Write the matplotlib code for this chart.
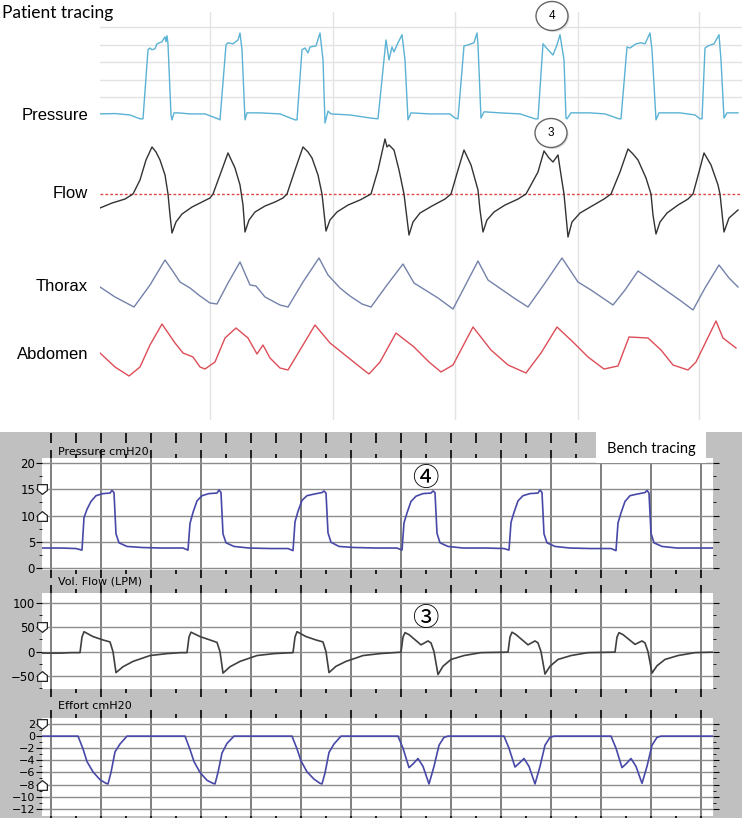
import numpy as np
import matplotlib.pyplot as plt
from matplotlib.patches import Rectangle, Ellipse
from matplotlib.path import Path

# ---------------- patient tracing (time in s) ----------------
pt_grid_t = [4.4, 9.32, 14.2, 19.12, 23.96]

pres_t = [0, 0.6, 1.2, 1.6,
          1.72, 1.92, 2.0, 2.08, 2.2, 2.28, 2.48, 2.6, 2.64, 2.68, 2.72, 2.84, 2.88, 2.96, 3.12, 3.6, 4.2, 4.72,
          4.8, 5.04, 5.12, 5.32, 5.52, 5.6, 5.68, 5.8, 5.88, 6.4, 7.2, 7.8,
          7.88, 8.08, 8.2, 8.32, 8.4, 8.64, 8.8, 8.92, 9.0, 9.12, 9.24, 10.0, 10.84,
          11.12, 11.44, 11.56, 11.68, 11.76, 11.92, 12.08, 12.2, 12.32, 12.44, 13.2, 14.0, 14.2,
          14.32, 14.56, 14.72, 14.96, 15.08, 15.12, 15.24, 15.36, 16.0, 16.8, 17.4,
          17.52, 17.72, 17.92, 18.12, 18.28, 18.4, 18.56, 18.64, 18.68, 18.84, 19.6, 20.2, 20.76,
          20.84, 21.08, 21.2, 21.44, 21.64, 21.8, 22.0, 22.08, 22.24, 22.36, 23.2, 23.8, 24.0,
          24.08, 24.2, 24.32, 24.56, 24.76, 24.84, 24.96, 25.08, 25.52]
pres_v = [5.3, 5.4, 5.0, 3.9,
          3.9, 23.6, 24.1, 23.6, 23.9, 25.3, 25.9, 27.3, 25.9, 27.6, 25.3, 5.0, 3.6, 5.6, 5.6, 5.3, 5.3, 3.9,
          3.6, 25.0, 25.6, 25.3, 26.4, 28.4, 23.6, 3.6, 5.6, 5.6, 5.3, 3.6,
          3.6, 23.6, 24.1, 22.7, 24.4, 24.7, 28.4, 20.7, 2.7, 6.1, 5.3, 5.0, 4.1,
          3.9, 26.4, 20.7, 24.4, 23.0, 25.6, 27.9, 20.7, 3.6, 5.6, 5.3, 5.3, 4.1,
          3.9, 24.7, 25.0, 25.6, 28.4, 25.0, 4.1, 5.9, 5.6, 5.3, 3.9,
          3.9, 25.3, 23.6, 22.1, 25.0, 27.9, 20.7, 4.1, 3.9, 5.6, 5.6, 5.3, 3.9,
          3.9, 24.4, 24.1, 25.3, 25.6, 25.3, 28.4, 23.6, 3.6, 5.6, 5.6, 5.0, 3.9,
          3.9, 24.1, 24.7, 25.3, 27.9, 20.7, 4.1, 5.6, 5.6]

flow_t = [0, 0.48, 1.0, 1.32, 1.6, 1.84, 2.08, 2.24, 2.4, 2.6, 2.72, 2.8, 2.88,
          3.04, 3.28, 3.68, 4.08, 4.4, 4.52, 4.8, 5.12, 5.4, 5.6, 5.72, 5.8,
          5.96, 6.2, 6.6, 7.0, 7.32, 7.48, 7.8, 8.12, 8.32, 8.48, 8.72, 8.88, 9.04,
          9.2, 9.48, 9.92, 10.4, 10.84, 11.12, 11.4, 11.48, 11.56, 11.76, 11.96, 12.16, 12.36,
          12.52, 12.8, 13.28, 13.8, 14.04, 14.32, 14.56, 14.84, 15.12, 15.2, 15.32,
          15.48, 15.76, 16.2, 16.72, 17.04, 17.52, 17.76, 17.96, 18.12, 18.32, 18.44, 18.56, 18.72,
          18.88, 19.2, 19.68, 20.16, 20.44, 20.8, 21.12, 21.32, 21.52, 21.84, 22.04, 22.12, 22.24,
          22.4, 22.68, 23.12, 23.52, 23.72, 23.96, 24.16, 24.44, 24.72, 24.8, 24.96, 25.16, 25.52]
flow_v = [-17.5, -11.3, -6.3, 0, 17.5, 42.5, 58.8, 52.5, 42.5, 23.8, 0, -26.3, -48.8,
          -35, -25, -16.3, -10, -5, 0, 23.8, 51.3, 32.5, 11.3, -13.8, -47.5,
          -32.5, -22.5, -15, -10, -5, 0, 30, 58.8, 52.5, 45, 23.8, 0, -46.3,
          -32.5, -22.5, -13.8, -7.5, 0, 30, 68.8, 58.8, 61.3, 55, 30, 0, -51.3,
          -35, -23.8, -15, -6.3, 0, 30, 55, 36.3, 5, -20, -47.5,
          -32.5, -22.5, -13.8, -6.3, 0, 27.5, 53.8, 45, 40, 48.8, 23.8, 0, -53.8,
          -35, -23.8, -15, -6.3, 0, 27.5, 56.3, 50, 42.5, 20, 0, -26.3, -50,
          -35, -23.8, -13.8, -6.3, 0, 27.5, 51.3, 36.3, 11.3, 0, -47.5, -30, -20]

thor_t = [0, 0.6, 1.36, 2.0, 2.6, 2.88, 3.2, 3.6, 4.0, 4.4, 4.68, 5.12, 5.6, 6.0, 6.24,
          6.6, 7.2, 7.52, 8.12, 8.76, 9.12, 9.6, 10.0, 10.48, 10.84, 11.48, 12.12, 12.56,
          13.52, 14.12, 14.6, 15.12, 15.52, 16.56, 17.12, 17.8, 18.48, 19.12, 19.64, 20.52,
          21.0, 21.52, 22.16, 23.24, 23.72, 24.2, 24.76, 25.16, 25.52]
thor_v = [4.6, 2.6, 0.6, 5.0, 10.0, 8.0, 5.6, 4.4, 2.8, 1.4, 1.2, 5.4, 9.6, 5.0, 4.8,
          2.6, 1.0, 0.6, 5.6, 10.4, 7.0, 4.4, 2.8, 1.2, 0.6, 5.0, 9.2, 5.4,
          2.4, 0.2, 4.8, 9.8, 6.0, 2.4, 0.6, 5.4, 10.4, 5.6, 4.0, 1.0,
          4.0, 7.8, 5.6, 1.8, 0.0, 4.4, 9.0, 6.4, 4.6]

abd_t = [0, 0.6, 1.16, 1.6, 2.0, 2.48, 3.0, 3.32, 3.72, 4.0, 4.2, 4.6, 5.0, 5.44, 5.92,
         6.28, 6.52, 6.8, 7.2, 7.52, 8.0, 8.6, 9.2, 9.8, 10.4, 10.76, 11.2, 11.84, 12.56,
         13.16, 13.64, 14.12, 14.92, 15.64, 16.32, 17.04, 17.64, 18.28, 18.96, 19.52, 20.16,
         20.72, 21.16, 21.92, 22.44, 22.92, 23.52, 23.84, 24.64, 24.92, 25.44]
abd_v = [5.0, 2.2, 0.4, 2.2, 6.6, 10.8, 7.0, 5.0, 4.2, 2.2, 1.8, 3.2, 8.0, 10.0, 8.0,
         4.8, 6.6, 4.0, 2.0, 1.6, 5.6, 10.6, 7.0, 4.6, 2.2, 0.8, 3.2, 9.0, 6.2,
         3.2, 1.2, 2.6, 10.2, 5.6, 2.6, 1.0, 5.0, 10.2, 7.0, 4.2, 1.8,
         2.4, 8.2, 8.0, 5.6, 2.6, 1.6, 3.2, 11.4, 8.0, 6.0]

# ---------------- bench tracing (time in s) ----------------
b_pres_t = [-0.18, 0.2, 0.5, 0.62, 0.66, 0.72, 0.8, 0.9, 1.04, 1.18, 1.22, 1.26, 1.3, 1.36, 1.52, 1.82, 2.2, 2.64,
            2.74, 2.78, 2.84, 2.92, 3.02, 3.16, 3.32, 3.36, 3.4, 3.44, 3.5, 3.66, 3.96, 4.4, 4.74,
            4.84, 4.88, 4.94, 5.02, 5.12, 5.26, 5.42, 5.46, 5.5, 5.54, 5.6, 5.76, 6.06, 6.5, 6.92,
            7.02, 7.06, 7.12, 7.2, 7.3, 7.44, 7.6, 7.64, 7.68, 7.72, 7.78, 7.94, 8.24, 8.7, 9.06,
            9.16, 9.2, 9.26, 9.34, 9.44, 9.58, 9.74, 9.78, 9.82, 9.86, 9.92, 10.08, 10.38, 10.8, 11.2,
            11.3, 11.34, 11.4, 11.48, 11.58, 11.72, 11.88, 11.92, 11.96, 12.0, 12.06, 12.22, 12.52, 12.9, 13.24]
b_pres_v = [3.8, 3.8, 3.7, 3.4, 9.6, 11.2, 12.7, 13.8, 14.2, 14.3, 14.8, 14.4, 6.5, 4.8, 4.1, 3.9, 3.8, 3.8,
            3.4, 8.5, 10.6, 12.8, 13.8, 14.2, 14.3, 14.9, 14.4, 6.5, 4.8, 4.1, 3.8, 3.7, 3.7,
            3.3, 8.8, 10.8, 12.9, 13.8, 14.1, 14.4, 14.7, 14.3, 6.7, 4.9, 4.1, 3.9, 3.8, 3.8,
            3.4, 8.6, 10.5, 12.7, 13.7, 14.2, 14.3, 14.7, 14.4, 6.6, 4.8, 4.1, 3.8, 3.8, 3.7,
            3.4, 8.7, 10.6, 12.8, 13.8, 14.2, 14.3, 14.9, 14.4, 6.5, 4.8, 4.1, 3.8, 3.7, 3.7,
            3.3, 8.6, 10.5, 12.7, 13.8, 14.1, 14.4, 14.8, 14.3, 6.6, 4.8, 4.1, 3.8, 3.8, 3.8]

b_flow_t = [-0.18, 0.2, 0.4, 0.58,
            0.62, 0.66, 0.84, 1.04, 1.18, 1.24, 1.3, 1.44, 1.64, 1.98, 2.32, 2.6, 2.72,
            2.76, 2.8, 2.98, 3.18, 3.32, 3.38, 3.44, 3.58, 3.78, 4.12, 4.46, 4.84,
            4.88, 4.92, 5.1, 5.3, 5.44, 5.5, 5.56, 5.7, 5.9, 6.24, 6.58, 7.0,
            7.04, 7.08, 7.16, 7.4, 7.54, 7.6, 7.66, 7.74, 7.84, 8.0, 8.26, 8.6, 9.14,
            9.18, 9.22, 9.3, 9.54, 9.68, 9.74, 9.8, 9.88, 9.98, 10.14, 10.4, 10.74, 11.28,
            11.32, 11.36, 11.44, 11.68, 11.82, 11.88, 11.94, 12.02, 12.12, 12.28, 12.54, 12.88, 13.24]
b_flow_v = [-3, -3, -2, -2,
            30, 41, 31, 24, 20, 0, -43, -31, -20, -8, -4, -2, -2,
            30, 40, 31, 24, 19, 0, -44, -31, -20, -8, -4, -2,
            30, 41, 31, 24, 20, 0, -43, -30, -20, -8, -4, -1,
            30, 39, 35, 14, 22, 18, 0, -47, -30, -16, -8, -2, -1,
            30, 40, 35, 14, 22, 18, 0, -46, -30, -16, -8, -2, -1,
            30, 39, 35, 15, 22, 18, 0, -44, -29, -16, -8, -2, -1]

b_eff_t = [-0.18, 0.54, 0.64, 0.72, 0.84, 0.98, 1.1, 1.14, 1.2, 1.28, 1.38, 1.52,
           2.68, 2.78, 2.86, 2.98, 3.12, 3.24, 3.28, 3.34, 3.42, 3.52, 3.66,
           4.82, 4.92, 5.0, 5.12, 5.26, 5.38, 5.42, 5.48, 5.56, 5.66, 5.8,
           6.94, 7.04, 7.16, 7.24, 7.34, 7.44, 7.56, 7.66, 7.76, 7.86, 7.94,
           9.06, 9.16, 9.28, 9.36, 9.46, 9.56, 9.68, 9.78, 9.88, 9.98, 10.06,
           11.2, 11.3, 11.42, 11.5, 11.6, 11.7, 11.82, 11.92, 12.02, 12.12, 12.2, 13.24]
b_eff_v = [0, 0, -2.1, -4.2, -5.9, -7.2, -7.8, -7.9, -6.0, -2.6, -1.3, 0,
           0, -2.2, -4.2, -6.0, -7.3, -7.8, -7.9, -6.0, -2.8, -1.2, 0,
           0, -2.1, -4.1, -5.9, -7.1, -7.8, -7.9, -6.1, -2.7, -1.3, 0,
           0, -2.0, -5.2, -4.6, -3.7, -5.0, -7.9, -5.0, -1.5, -0.2, 0,
           0, -2.0, -5.1, -4.5, -3.7, -5.0, -7.9, -5.0, -1.5, -0.2, 0,
           0, -2.0, -5.2, -4.6, -3.7, -5.0, -7.8, -5.0, -1.5, -0.2, 0, 0]

W, H = 742, 818
fig = plt.figure(figsize=(W / 100, H / 100), dpi=100)


def px_axes(x0, y0, x1, y1, **kw):
    # pixel box measured from the top-left corner of the picture
    return fig.add_axes([x0 / W, 1 - y1 / H, (x1 - x0) / W, (y1 - y0) / H], **kw)


# ---- top half ----
pt_xlim = (0, 25.68)
bg = px_axes(100, 12, 742, 420)
bg.set_xlim(pt_xlim)
bg.set_ylim(0, 1)
for t in pt_grid_t:
    bg.axvline(t, color='#e3e3e3', lw=1)
bg.axis('off')

axp = px_axes(100, 20, 742, 130)
axp.set_xlim(pt_xlim)
axp.set_ylim(0.71, 32.1)
for v in [10, 15, 20, 25, 30]:
    axp.axhline(v, color='#e3e3e3', lw=1, zorder=0)
axp.plot(pres_t, pres_v, color='#5ab2d4', lw=1)
axp.axis('off')

axf = px_axes(100, 130, 742, 250)
axf.set_xlim(pt_xlim)
axf.set_ylim(-70, 80)
axf.axhline(0, color='#e04848', lw=1, ls=(0, (2, 1.5)))
axf.plot(flow_t, flow_v, color='#333333', lw=1)
axf.axis('off')

axt = px_axes(100, 250, 742, 315)
axt.set_xlim(pt_xlim)
axt.set_ylim(-1, 12)
axt.plot(thor_t, thor_v, color='#7482aa', lw=1)
axt.axis('off')

axa = px_axes(100, 315, 742, 385)
axa.set_xlim(pt_xlim)
axa.set_ylim(-1.4, 12.6)
axa.plot(abd_t, abd_v, color='#dd4d57', lw=1)
axa.axis('off')

for lab, yy in [('Pressure', 116), ('Flow', 193), ('Thorax', 287), ('Abdomen', 354)]:
    fig.text(88 / W, 1 - yy / H, lab, ha='right', va='center', fontsize=12,
             family='Liberation Sans')
fig.text(2 / W, 1 - 13 / H, 'Patient tracing', ha='left', va='center', fontsize=12.5,
         family='Lato')

# ---- bottom half: grey instrument screen ----
screen = px_axes(0, 432, 742, 818, zorder=-5)
screen.set_facecolor('#c0c0c0')
screen.set_xticks([])
screen.set_yticks([])
for s in screen.spines.values():
    s.set_visible(False)

shield_dn = Path([(-1, 1), (1, 1), (1, -0.2), (0, -1), (-1, -0.2), (-1, 1)],
                 [Path.MOVETO] + [Path.LINETO] * 4 + [Path.CLOSEPOLY])
shield_up = Path([(-1, -1), (1, -1), (1, 0.2), (0, 1), (-1, 0.2), (-1, -1)],
                 [Path.MOVETO] + [Path.LINETO] * 4 + [Path.CLOSEPOLY])

b_xlim = (-0.18, 13.24)
panels = [
    (458, 570, (-0.4, 21), np.arange(0, 21, 5), np.arange(0, 21, 2.5), b_pres_t, b_pres_v,
     '#4848a8', (15, 10), 'Pressure cmH20', 452),
    (593, 689, (-76.7, 120.5), np.arange(-50, 101, 50), np.arange(-75, 101, 25), b_flow_t, b_flow_v,
     '#404040', (50, -50), 'Vol. Flow (LPM)', 582),
    (718, 816, (-13.2, 3.0), np.arange(-12, 3, 2), np.arange(-12, 3, 1), b_eff_t, b_eff_v,
     '#4848a8', (2, -8), 'Effort cmH20', 706),
]
for top, bot, ylim, yt, ymt, tt, vv, col, marks, title, ty in panels:
    ax = px_axes(42, top, 713, bot)
    ax.set_xlim(b_xlim)
    ax.set_ylim(ylim)
    ax.set_facecolor('white')
    for s in ax.spines.values():
        s.set_visible(False)
    ax.set_xticks(np.arange(0, 14, 1))
    ax.set_xticks(np.arange(0.5, 13.5, 1), minor=True)
    ax.set_yticks(yt)
    ax.set_yticks(ymt, minor=True)
    ax.set_xticklabels([])
    ax.tick_params(axis='x', which='both', top=True, bottom=True, direction='out',
                   color='black', width=1.2)
    ax.tick_params(axis='x', which='major', length=6)
    ax.tick_params(axis='x', which='minor', length=3)
    ax.tick_params(axis='y', which='both', left=True, right=True, direction='out',
                   color='black', length=4, labelsize=8 if len(yt) > 6 else 8.5, pad=1)
    ax.tick_params(axis='y', which='minor', length=2.5)
    for t in np.arange(0, 14, 1):
        ax.axvline(t, color='#6a6a6a', lw=1.2, zorder=1)
    for v in yt:
        ax.axhline(v, color='#8c8c8c', lw=1, zorder=1)
    ax.plot(tt, vv, color=col, lw=1.2, zorder=3)
    ax.plot([b_xlim[0]], [marks[0]], marker=shield_dn, ms=7, mfc='white', mec='#222222',
            mew=0.9, clip_on=False, zorder=5)
    ax.plot([b_xlim[0]], [marks[1]], marker=shield_up, ms=7, mfc='white', mec='#222222',
            mew=0.9, clip_on=False, zorder=5)
    fig.text(58 / W, 1 - ty / H, title, ha='left', va='center', fontsize=8,
             family='DejaVu Sans')

# tick row at the top edge of the screen
tk = px_axes(42, 437, 713, 437.5)
tk.set_xlim(b_xlim)
for s in tk.spines.values():
    s.set_visible(False)
tk.set_yticks([])
tk.set_xticks(np.arange(0, 14, 1))
tk.set_xticks(np.arange(0.5, 13.5, 1), minor=True)
tk.set_xticklabels([])
tk.tick_params(axis='x', which='both', direction='inout', length=7, width=1.2, color='black')
tk.patch.set_visible(False)

# ---- overlay: annotations in picture pixels ----
ov = fig.add_axes([0, 0, 1, 1], zorder=10)
ov.set_xlim(0, W)
ov.set_ylim(H, 0)
ov.axis('off')
for cx, cy, num in [(552, 16, '4'), (551, 133, '3')]:
    ov.add_patch(Ellipse((cx + 1.5, cy + 1.5), 32, 29, fc='#d8d8d8', ec='none', alpha=0.8))
    ov.add_patch(Ellipse((cx, cy), 32, 29, fc='white', ec='#666666', lw=1))
    ov.text(cx, cy, num, ha='center', va='center', fontsize=8.5, family='Liberation Sans')

ov.add_patch(Rectangle((596, 432), 110, 31, fc='white', ec='none'))
ov.text(651, 449, 'Bench tracing', ha='center', va='center', fontsize=10.5, family='Lato')
ov.text(425, 479, '\u2463', ha='center', va='center', fontsize=19,
        family=['Noto Sans CJK JP', 'DejaVu Sans'])
ov.text(425, 619, '\u2462', ha='center', va='center', fontsize=19,
        family=['Noto Sans CJK JP', 'DejaVu Sans'])

plt.savefig('out.png', dpi=100)
